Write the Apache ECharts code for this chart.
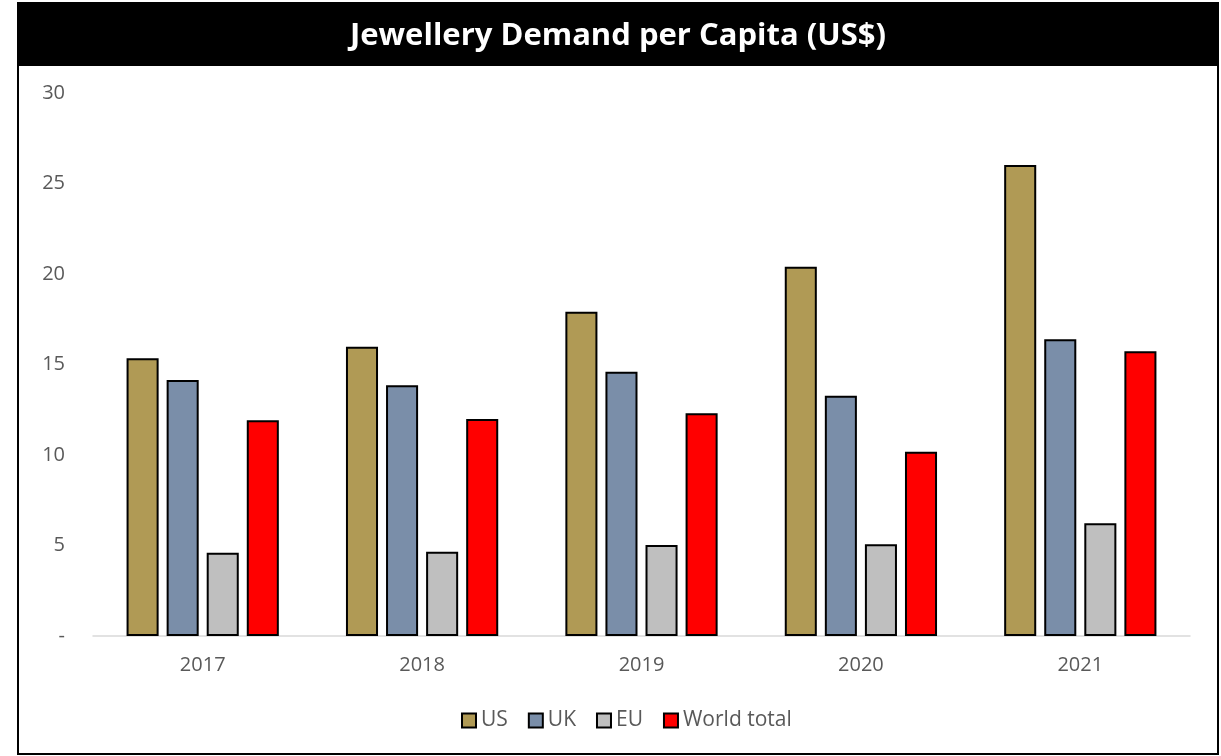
<!DOCTYPE html>
<html>
<head>
<meta charset="utf-8">
<script src="https://cdn.jsdelivr.net/npm/echarts@6/dist/echarts.min.js"></script>
<style>
  html, body { margin: 0; padding: 0; background: #fff; }
  #chart { width: 1221px; height: 756px; }
</style>
</head>
<body>
<div id="chart"></div>
<script>
// Jewellery demand per capita, US$
const years = ['2017', '2018', '2019', '2020', '2021'];
const usValues = [15.34, 15.98, 17.92, 20.40, 26.02];
const ukValues = [14.14, 13.85, 14.60, 13.28, 16.39];
const euValues = [4.60, 4.66, 5.03, 5.07, 6.23];
const worldValues = [11.92, 11.99, 12.30, 10.18, 15.73];
const seriesNames = ['US', 'UK', 'EU', 'World total'];
const seriesColors = ['#b09a55', '#7a8ea9', '#bfbfbf', '#ff0000'];
const titleText = 'Jewellery Demand per Capita (US$)';

const chart = echarts.init(document.getElementById('chart'));
const font = '"Open Sans", sans-serif';

const seriesData = [usValues, ukValues, euValues, worldValues];

chart.setOption({
  backgroundColor: '#ffffff',
  animation: false,
  textStyle: { fontFamily: font },
  graphic: [
    {
      type: 'rect',
      shape: { x: 18, y: 3, width: 1200, height: 751 },
      style: { fill: 'none', stroke: '#000', lineWidth: 2 },
      z: 10
    },
    {
      type: 'rect',
      shape: { x: 18, y: 3, width: 1200, height: 63 },
      style: { fill: '#000' },
      z: 5
    },
    {
      type: 'text',
      x: 618, y: 36,
      style: {
        text: titleText,
        fill: '#fff',
        font: 'bold 31px ' + font,
        align: 'center',
        verticalAlign: 'middle'
      },
      z: 6
    }
  ],
  legend: {
    data: seriesNames,
    bottom: 20,
    left: 456,
    itemWidth: 14,
    itemHeight: 14,
    itemGap: 20,
    icon: 'rect',
    textStyle: { color: '#595959', fontSize: 21, fontFamily: font, padding: [0, 0, 0, 0] }
  },
  grid: { left: 93, right: 31, top: 93, bottom: 120 },
  xAxis: {
    type: 'category',
    data: years,
    axisLine: { lineStyle: { color: '#d9d9d9', width: 1.5 } },
    axisTick: { show: false },
    axisLabel: { color: '#595959', fontSize: 20, fontFamily: font, margin: 19 }
  },
  yAxis: {
    type: 'value',
    min: 0,
    max: 30,
    interval: 5,
    splitLine: { show: false },
    axisLine: { show: false },
    axisTick: { show: false },
    axisLabel: {
      color: '#595959',
      fontSize: 20,
      fontFamily: font,
      margin: 28,
      formatter: v => (v === 0 ? '-' : String(v))
    }
  },
  series: seriesNames.map((name, i) => ({
    name,
    type: 'bar',
    data: seriesData[i],
    barGap: '25%',
    barCategoryGap: '30.6%',
    itemStyle: {
      color: seriesColors[i],
      borderColor: '#000',
      borderWidth: 2
    }
  }))
});
</script>
</body>
</html>
